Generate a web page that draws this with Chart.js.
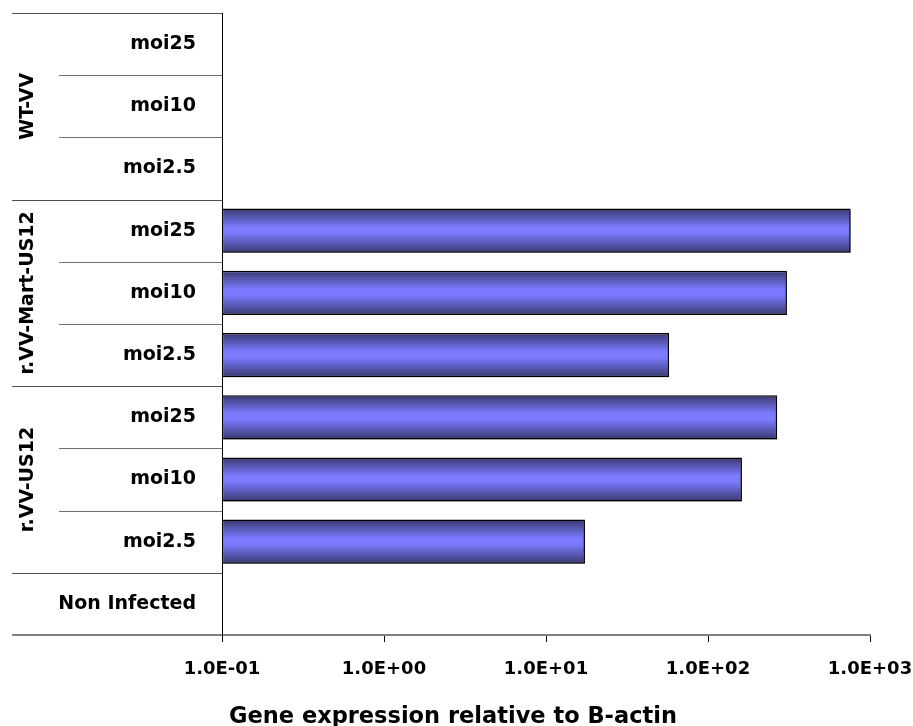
<!DOCTYPE html>
<html>
<head>
<meta charset="utf-8">
<script src="https://cdn.jsdelivr.net/npm/chart.js@4"></script>
<style>
  body { margin: 0; background: #fff; }
  canvas { display: block; }
</style>
</head>
<body>
<canvas id="expressionChart" width="913" height="726"></canvas>
<script>
// Data, top row first
const subLabels = ['moi25', 'moi10', 'moi2.5', 'moi25', 'moi10', 'moi2.5', 'moi25', 'moi10', 'moi2.5', 'Non Infected'];
const groupNames = ['WT-VV', 'r.VV-Mart-US12', 'r.VV-US12', ''];
const groupSizes = [3, 3, 3, 1];
const expression = [null, null, null, 760, 307, 57.5, 267, 162, 17.4, null];
const xTicks = [0.1, 1, 10, 100, 1000];
const xTitle = 'Gene expression relative to B-actin';

const FONT = 'DejaVu Sans';

function sciLabel(v) {
  const parts = v.toExponential(1).split('e');
  const exp = parseInt(parts[1], 10);
  const sign = exp < 0 ? '-' : '+';
  return parts[0] + 'E' + sign + String(Math.abs(exp)).padStart(2, '0');
}

// bar gradient: dark at the edges, light in the middle
function barFill(context) {
  const chart = context.chart;
  const yScale = chart.scales.y;
  if (!chart.chartArea || !yScale) return '#7b7bff';
  const center = yScale.getPixelForValue(context.dataIndex);
  const h = (yScale.height / subLabels.length) * 0.71;
  const g = chart.ctx.createLinearGradient(0, center - h / 2, 0, center + h / 2);
  g.addColorStop(0, '#38386f');
  g.addColorStop(0.42, '#7b7bff');
  g.addColorStop(0.55, '#7b7bff');
  g.addColorStop(1, '#38386f');
  return g;
}

// separator lines, group labels and axis title
const groupAxisPlugin = {
  id: 'groupAxis',
  afterDraw(chart) {
    const ctx = chart.ctx;
    const y = chart.scales.y;
    const area = chart.chartArea;
    const step = y.height / subLabels.length;
    const groupEdges = [0];
    groupSizes.forEach(s => groupEdges.push(groupEdges[groupEdges.length - 1] + s));
    ctx.save();
    ctx.lineWidth = 1;
    for (let k = 0; k < subLabels.length; k++) {
      const py = Math.round(y.top + k * step) + 0.5;
      const isGroup = groupEdges.includes(k);
      ctx.strokeStyle = isGroup ? '#505050' : '#707070';
      ctx.beginPath();
      ctx.moveTo(isGroup ? 12 : 59, py);
      ctx.lineTo(area.left, py);
      ctx.stroke();
    }
    // x axis line extended to the far left
    ctx.strokeStyle = '#808080';
    ctx.lineWidth = 2;
    ctx.beginPath();
    ctx.moveTo(12, area.bottom);
    ctx.lineTo(area.left, area.bottom);
    ctx.stroke();

    ctx.fillStyle = '#000';
    ctx.font = 'bold 19px "' + FONT + '"';
    ctx.textAlign = 'center';
    ctx.textBaseline = 'middle';
    groupNames.forEach((name, i) => {
      if (!name) return;
      const mid = y.top + (groupEdges[i] + groupEdges[i + 1]) / 2 * step;
      ctx.save();
      ctx.translate(28, mid);
      ctx.rotate(-Math.PI / 2);
      ctx.fillText(name, 0, 0);
      ctx.restore();
    });

    ctx.font = 'bold 22.5px "' + FONT + '"';
    ctx.textBaseline = 'alphabetic';
    ctx.fillText(xTitle, 453, 723);
    ctx.restore();
  }
};

const shadowPlugin = {
  id: 'barShadow',
  beforeDatasetsDraw(chart) {
    const ctx = chart.ctx;
    ctx.save();
    ctx.shadowColor = 'rgba(0,0,0,0.35)';
    ctx.shadowOffsetX = 2;
    ctx.shadowOffsetY = 2;
    ctx.shadowBlur = 0;
  },
  afterDatasetsDraw(chart) {
    chart.ctx.restore();
  }
};

new Chart(document.getElementById('expressionChart'), {
  type: 'bar',
  data: {
    labels: subLabels,
    datasets: [{
      data: expression,
      backgroundColor: barFill,
      borderColor: '#000',
      borderWidth: 1.5,
      borderSkipped: false,
      categoryPercentage: 1,
      barPercentage: 0.71
    }]
  },
  options: {
    indexAxis: 'y',
    responsive: false,
    animation: false,
    layout: { padding: { top: 13, right: 43, left: 0, bottom: 0 } },
    plugins: {
      legend: { display: false },
      tooltip: { enabled: false }
    },
    scales: {
      x: {
        type: 'logarithmic',
        min: 0.1,
        max: 1000,
        afterBuildTicks: scale => { scale.ticks = xTicks.map(v => ({ value: v })); },
        afterFit: scale => {
          scale.height = 91;
          scale.paddingLeft = 0;
          scale.paddingRight = 0;
        },
        ticks: {
          autoSkip: false,
          maxRotation: 0,
          padding: 17,
          color: '#000',
          font: { family: FONT, size: 18, weight: 'bold' },
          callback: v => sciLabel(v)
        },
        grid: {
          drawOnChartArea: false,
          drawTicks: true,
          tickLength: 7,
          color: '#000'
        },
        border: { display: true, color: '#808080', width: 2 }
      },
      y: {
        afterFit: scale => {
          scale.width = 222;
          scale.paddingTop = 0;
          scale.paddingBottom = 0;
        },
        ticks: {
          padding: 18,
          color: '#000',
          font: { family: FONT, size: 19, weight: 'bold' }
        },
        grid: { display: false },
        border: { display: true, color: '#000', width: 1 }
      }
    }
  },
  plugins: [shadowPlugin, groupAxisPlugin]
});
</script>
</body>
</html>
